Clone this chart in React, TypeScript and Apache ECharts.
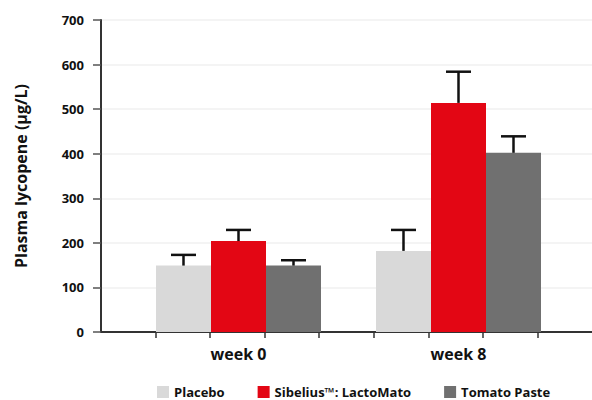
import React, { useEffect, useRef } from "react";
import * as echarts from "echarts";

const categories = ["week 0", "week 8"];
const seriesNames = ["Placebo", "Sibelius™: LactoMato", "Tomato Paste"];
const placebo = [149, 182];
const sibelius = [204, 514];
const tomato = [149, 402];
const placeboUpper = [173, 229];
const sibeliusUpper = [229, 584];
const tomatoUpper = [161, 439];
const yTicks = { min: 0, max: 700, interval: 100 };
const slotTicks = [1, 2, 3, 4, 5, 6, 7, 8];
const colors = ["#d9d9d9", "#e30614", "#707070"];

const FONT = "'Open Sans', Inter, sans-serif";

export default function App() {
  const ref = useRef<HTMLDivElement>(null);
  useEffect(() => {
    if (!ref.current) return;
    const chart = echarts.init(ref.current, undefined, { renderer: "svg" });
    const means = [placebo, sibelius, tomato];
    const uppers = [placeboUpper, sibeliusUpper, tomatoUpper];
    const errSeries = means.map((m, si) => ({
      type: "custom",
      name: seriesNames[si] + " error",
      xAxisIndex: 1,
      yAxisIndex: 1,
      z: 5,
      silent: true,
      data: categories.map((_, ci) => [ci, uppers[si][ci], m[ci]]),
      renderItem: (params: any, api: any) => {
        const ci = api.value(0);
        const top = api.coord([ci, api.value(1)]);
        const base = api.coord([ci, api.value(2)]);
        const band = api.size([1, 0])[0];
        const off = (si - 1) * band * 0.25;
        const x = top[0] + off;
        const capHalf = 12.5;
        const style = { stroke: "#111111", lineWidth: 2.5 };
        return {
          type: "group",
          children: [
            { type: "line", shape: { x1: x, y1: base[1], x2: x, y2: top[1] }, style },
            { type: "line", shape: { x1: x - capHalf, y1: top[1], x2: x + capHalf, y2: top[1] }, style },
          ],
        };
      },
    }));
    const option: any = {
      animation: false,
      textStyle: { fontFamily: FONT },
      grid: [
        { left: 101, right: 0, top: 20, bottom: 68 },
        { left: 128.5, width: 440, top: 20, bottom: 68 },
      ],
      legend: {
        data: seriesNames,
        left: 157,
        top: 385,
        icon: "rect",
        itemWidth: 12,
        itemHeight: 12,
        itemGap: 33,
        padding: 0,
        textStyle: { fontFamily: FONT, fontWeight: 700, fontSize: 13, color: "#111", lineHeight: 14 },
      },
      xAxis: [
        {
          type: "value",
          gridIndex: 0,
          min: 0,
          max: 9,
          interval: 1,
          axisLine: { show: true, lineStyle: { color: "#333", width: 2 } },
          axisTick: { show: true, length: 6, customValues: slotTicks, lineStyle: { color: "#333", width: 1.5 } },
          axisLabel: { show: false },
          splitLine: { show: false },
        },
        {
          type: "category",
          gridIndex: 1,
          data: categories,
          axisLine: { show: false },
          axisTick: { show: false },
          axisLabel: {
            fontFamily: FONT,
            fontWeight: 700,
            fontSize: 16,
            color: "#111",
            margin: 14,
          },
        },
      ],
      yAxis: [
        {
          type: "value",
          gridIndex: 0,
          min: yTicks.min,
          max: yTicks.max,
          interval: yTicks.interval,
          name: "Plasma lycopene (µg/L)",
          nameLocation: "middle",
          nameGap: 72,
          nameTextStyle: { fontFamily: FONT, fontWeight: 700, fontSize: 16, color: "#111" },
          axisLine: { show: true, lineStyle: { color: "#333", width: 2 } },
          axisTick: { show: true, length: 8, lineStyle: { color: "#555", width: 1.5 } },
          axisLabel: { fontFamily: FONT, fontWeight: 700, fontSize: 13, color: "#111", margin: 17 },
          splitLine: { show: true, lineStyle: { color: "#f0f0f0", width: 1.5 } },
        },
        {
          type: "value",
          gridIndex: 1,
          min: yTicks.min,
          max: yTicks.max,
          interval: yTicks.interval,
          show: false,
          splitLine: { show: false },
        },
      ],
      series: [
        ...means.map((m, i) => ({
          type: "bar",
          name: seriesNames[i],
          xAxisIndex: 1,
          yAxisIndex: 1,
          data: m,
          barWidth: "25%",
          barGap: "0%",
          itemStyle: { color: colors[i] },
        })),
        ...errSeries,
      ],
    };
    chart.setOption(option);
    return () => chart.dispose();
  }, []);
  return (
    <div
      ref={ref}
      style={{ position: "fixed", left: 0, top: 0, width: 592, height: 400, background: "#fff" }}
    />
  );
}
